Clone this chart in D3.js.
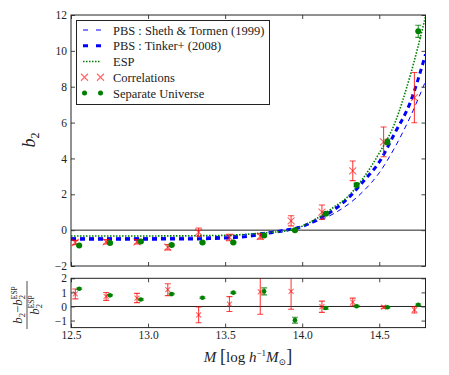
<!DOCTYPE html>
<html>
<head>
<meta charset="utf-8">
<script src="https://cdn.jsdelivr.net/npm/d3@7"></script>
<style>
  body { margin: 0; background: #fff; }
  text { font-family: "Liberation Serif", "DejaVu Serif", serif; fill: #222; }
</style>
</head>
<body>
<svg id="chart" width="449" height="375"></svg>
<script>
// model curves
var massGrid = [12.5, 12.6, 12.7, 12.8, 12.9, 13.0, 13.1, 13.2, 13.3, 13.4, 13.5, 13.6,
                13.7, 13.8, 13.9, 14.0, 14.1, 14.2, 14.3, 14.4, 14.5, 14.6, 14.7, 14.8];
var espCurve = [-0.33, -0.33, -0.33, -0.33, -0.33, -0.33, -0.32, -0.32, -0.31, -0.30, -0.29, -0.25,
                -0.19, -0.12, -0.04, 0.22, 0.68, 1.25, 1.9, 2.95, 4.3, 5.95, 8.6, 11.9];
var tinkerCurve = [-0.51, -0.51, -0.51, -0.51, -0.51, -0.51, -0.5, -0.5, -0.49, -0.47, -0.44, -0.39,
                   -0.28, -0.14, 0.0, 0.2, 0.6, 1.1, 1.8, 2.75, 3.8, 5.4, 7.1, 9.8];
var shethCurve = [-0.42, -0.42, -0.42, -0.42, -0.42, -0.42, -0.41, -0.4, -0.39, -0.37, -0.33, -0.27,
                  -0.18, -0.07, 0.06, 0.22, 0.5, 0.9, 1.45, 2.2, 3.2, 4.6, 6.3, 8.3];

// measured points
var massBins = [12.55, 12.75, 12.95, 13.15, 13.35, 13.55, 13.75, 13.95, 14.15, 14.35, 14.55, 14.75];
var corrB2 = [-0.69, -0.65, -0.65, -0.95, -0.11, -0.41, -0.35, 0.52, 1.0, 3.31, 4.92, 7.39];
var corrErr = [0.12, 0.12, 0.12, 0.15, 0.23, 0.18, 0.15, 0.28, 0.4, 0.55, 0.83, 1.4];
var sepB2 = [-0.85, -0.72, -0.63, -0.83, -0.69, -0.69, -0.3, 0.0, 0.91, 2.52, 4.92, 11.09];
var sepErr = [0.05, 0.05, 0.05, 0.05, 0.05, 0.05, 0.06, 0.06, 0.08, 0.1, 0.15, 0.34];

// relative deviation from ESP
var corrRatio = [0.89, 0.71, 0.6, 1.19, -0.6, 0.17, 1.03, 1.07, -0.02, 0.31, -0.05, -0.24];
var corrRatioErr = [0.35, 0.28, 0.33, 0.42, 0.56, 0.53, 1.58, 1.27, 0.4, 0.28, 0.08, 0.22];
var sepRatio = [1.26, 0.79, 0.5, 0.88, 0.62, 0.98, 1.07, -0.97, -0.11, 0.02, -0.05, 0.12];
var sepRatioErr = [0.05, 0.05, 0.05, 0.05, 0.05, 0.05, 0.25, 0.21, 0.08, 0.06, 0.05, 0.06];

var xTicks = [12.5, 13.0, 13.5, 14.0, 14.5];
var topTicks = [-2, 0, 2, 4, 6, 8, 10, 12];
var botTicks = [-1, 0, 1, 2];

var legendItems = ["PBS : Sheth & Tormen (1999)", "PBS : Tinker+ (2008)", "ESP", "Correlations", "Separate Universe"];

var left = 71, right = 425.5;
var topY0 = 15, topY1 = 266;
var botY0 = 278.3, botY1 = 327.6;
var blue = "#0000ff", green = "#008000", red = "#ff0000";

var svg = d3.select("#chart");

var x = d3.scaleLinear().domain([12.5, 14.8]).range([left, right]);
var yTop = d3.scaleLinear().domain([-2, 12]).range([topY1, topY0]);
var yBot = d3.scaleLinear().domain([-1.5, 2]).range([botY1, botY0]);

var defs = svg.append("defs");
defs.append("clipPath").attr("id", "clipTop").append("rect")
  .attr("x", left).attr("y", topY0).attr("width", right - left).attr("height", topY1 - topY0);
defs.append("clipPath").attr("id", "clipBot").append("rect")
  .attr("x", left).attr("y", botY0).attr("width", right - left).attr("height", botY1 - botY0);

function drawAxes(y, y0, y1, ticks, showX) {
  var g = svg.append("g");
  var axB = d3.axisBottom(x).tickValues(xTicks).tickSize(-4).tickPadding(3)
    .tickFormat(showX ? d3.format(".1f") : "");
  var axT = d3.axisTop(x).tickValues(xTicks).tickSize(-4).tickFormat("");
  var axL = d3.axisLeft(y).tickValues(ticks).tickSize(-4).tickPadding(4).tickFormat(d3.format("d"));
  var axR = d3.axisRight(y).tickValues(ticks).tickSize(-4).tickFormat("");
  g.append("g").attr("transform", "translate(0," + y1 + ")").call(axB);
  g.append("g").attr("transform", "translate(0," + y0 + ")").call(axT);
  g.append("g").attr("transform", "translate(" + left + ",0)").call(axL);
  g.append("g").attr("transform", "translate(" + right + ",0)").call(axR);
  g.selectAll(".domain").remove();
  g.selectAll(".tick line").attr("stroke", "#444");
  g.selectAll(".tick text").attr("font-size", 11.5).attr("fill", "#222");
  g.append("rect").attr("x", left).attr("y", y0).attr("width", right - left).attr("height", y1 - y0)
    .attr("fill", "none").attr("stroke", "#222").attr("stroke-width", 1);
  return g;
}

function drawErrors(g, ms, vals, errs, y, color, opacity, capW) {
  var eb = g.append("g").attr("stroke", color).attr("stroke-opacity", opacity).attr("stroke-width", 1.1);
  ms.forEach(function (m, i) {
    var cx = x(m), lo = y(vals[i] - errs[i]), hi = y(vals[i] + errs[i]);
    eb.append("line").attr("x1", cx).attr("x2", cx).attr("y1", lo).attr("y2", hi);
    eb.append("line").attr("x1", cx - capW).attr("x2", cx + capW).attr("y1", lo).attr("y2", lo);
    eb.append("line").attr("x1", cx - capW).attr("x2", cx + capW).attr("y1", hi).attr("y2", hi);
  });
}

function drawCross(g, cx, cy, s) {
  g.append("path")
    .attr("d", "M" + (cx - s) + "," + (cy - s) + "L" + (cx + s) + "," + (cy + s) +
               "M" + (cx - s) + "," + (cy + s) + "L" + (cx + s) + "," + (cy - s))
    .attr("stroke", red).attr("stroke-opacity", 0.6).attr("stroke-width", 1.1).attr("fill", "none");
}

var corrMass = massBins.map(function (m) { return m - 0.022; });
var sepMass = massBins.map(function (m) { return m + 0.003; });

// ---------- top panel ----------
var upper = svg.append("g").attr("clip-path", "url(#clipTop)");
upper.append("line").attr("x1", left).attr("x2", right).attr("y1", yTop(0)).attr("y2", yTop(0))
  .attr("stroke", "#222").attr("stroke-width", 1);

var curveLine = d3.line()
  .x(function (d) { return x(d[0]); })
  .y(function (d) { return yTop(d[1]); })
  .curve(d3.curveMonotoneX);

upper.append("path").datum(d3.zip(massGrid, shethCurve)).attr("d", curveLine)
  .attr("fill", "none").attr("stroke", blue).attr("stroke-width", 1).attr("stroke-dasharray", "5,4");
upper.append("path").datum(d3.zip(massGrid, tinkerCurve)).attr("d", curveLine)
  .attr("fill", "none").attr("stroke", blue).attr("stroke-width", 3).attr("stroke-dasharray", "5,4");
upper.append("path").datum(d3.zip(massGrid, espCurve)).attr("d", curveLine)
  .attr("fill", "none").attr("stroke", green).attr("stroke-width", 1.6).attr("stroke-dasharray", "1.5,1.5");

drawErrors(upper, corrMass, corrB2, corrErr, yTop, red, 0.75, 3);
drawErrors(upper, sepMass, sepB2, sepErr, yTop, green, 0.8, 3);
corrMass.forEach(function (m, i) { drawCross(upper, x(m), yTop(corrB2[i]), 3.5); });
upper.selectAll("circle.sep").data(sepMass).enter().append("circle")
  .attr("cx", function (d) { return x(d); })
  .attr("cy", function (d, i) { return yTop(sepB2[i]); })
  .attr("r", 3).attr("fill", green);

drawAxes(yTop, topY0, topY1, topTicks, false);

// ---------- bottom panel ----------
var lower = svg.append("g").attr("clip-path", "url(#clipBot)");
lower.append("line").attr("x1", left).attr("x2", right).attr("y1", yBot(0)).attr("y2", yBot(0))
  .attr("stroke", "#222").attr("stroke-width", 1);
drawErrors(lower, corrMass, corrRatio, corrRatioErr, yBot, red, 0.75, 3);
drawErrors(lower, sepMass, sepRatio, sepRatioErr, yBot, green, 0.8, 3);
corrMass.forEach(function (m, i) { drawCross(lower, x(m), yBot(corrRatio[i]), 2.5); });
lower.selectAll("circle.sep").data(sepMass).enter().append("circle")
  .attr("cx", function (d) { return x(d); })
  .attr("cy", function (d, i) { return yBot(sepRatio[i]); })
  .attr("r", 2.3).attr("fill", green);

drawAxes(yBot, botY0, botY1, botTicks, true);

// ---------- legend ----------
var lg = svg.append("g");
lg.append("rect").attr("x", 76.5).attr("y", 20.5).attr("width", 193).attr("height", 84)
  .attr("fill", "#fff").attr("stroke", "#222").attr("stroke-width", 1);
var rowY = d3.scalePoint().domain(legendItems).range([30, 93]);
legendItems.forEach(function (name, i) {
  var cy = rowY(name);
  if (i === 0) {
    lg.append("line").attr("x1", 83).attr("x2", 101).attr("y1", cy).attr("y2", cy)
      .attr("stroke", blue).attr("stroke-width", 1).attr("stroke-dasharray", "5,8");
  } else if (i === 1) {
    lg.append("line").attr("x1", 83).attr("x2", 101).attr("y1", cy).attr("y2", cy)
      .attr("stroke", blue).attr("stroke-width", 3).attr("stroke-dasharray", "5,8");
  } else if (i === 2) {
    lg.append("line").attr("x1", 83).attr("x2", 101).attr("y1", cy).attr("y2", cy)
      .attr("stroke", green).attr("stroke-width", 1.6).attr("stroke-dasharray", "1.5,1.5");
  } else if (i === 3) {
    drawCross(lg, 84.5, cy, 3.5);
    drawCross(lg, 100.5, cy, 3.5);
  } else {
    lg.append("circle").attr("cx", 84.5).attr("cy", cy).attr("r", 2.5).attr("fill", green);
    lg.append("circle").attr("cx", 100.5).attr("cy", cy).attr("r", 2.5).attr("fill", green);
  }
  lg.append("text").attr("x", 113).attr("y", cy + 4.5).attr("font-size", 12.5).text(name);
});

// ---------- axis labels ----------
svg.append("text").attr("transform", "translate(35,140) rotate(-90)")
  .attr("text-anchor", "middle").attr("font-size", 18)
  .html('<tspan font-style="italic">b</tspan><tspan font-size="12" dy="4">2</tspan>');

var fr = svg.append("g").attr("transform", "translate(27,305) rotate(-90)");
fr.append("text").attr("x", 0).attr("y", -5).attr("text-anchor", "middle").attr("font-size", 13)
  .html('<tspan font-style="italic">b</tspan><tspan font-size="8.5" dy="3">2</tspan>' +
        '<tspan dy="-3">\u2212</tspan><tspan font-style="italic">b</tspan>' +
        '<tspan font-size="8.5" dy="3">2</tspan><tspan font-size="7.5" dx="-4.3" dy="-8.5">ESP</tspan>');
fr.append("line").attr("x1", -24).attr("x2", 24).attr("y1", 0).attr("y2", 0)
  .attr("stroke", "#222").attr("stroke-width", 0.8);
fr.append("text").attr("x", 0).attr("y", 12).attr("text-anchor", "middle").attr("font-size", 13)
  .html('<tspan font-style="italic">b</tspan><tspan font-size="8.5" dy="3">2</tspan>' +
        '<tspan font-size="7.5" dx="-4.3" dy="-8.5">ESP</tspan>');

svg.append("text").attr("x", 248).attr("y", 362).attr("text-anchor", "middle").attr("font-size", 15)
  .html('<tspan font-style="italic">M</tspan> <tspan font-size="18">[</tspan>log ' +
        '<tspan font-style="italic">h</tspan><tspan font-size="9" dy="-6">\u22121</tspan>' +
        '<tspan font-style="italic" dy="6">M</tspan><tspan font-size="9" dy="3">\u2299</tspan>' +
        '<tspan font-size="18" dy="-3">]</tspan>');
</script>
</body>
</html>
